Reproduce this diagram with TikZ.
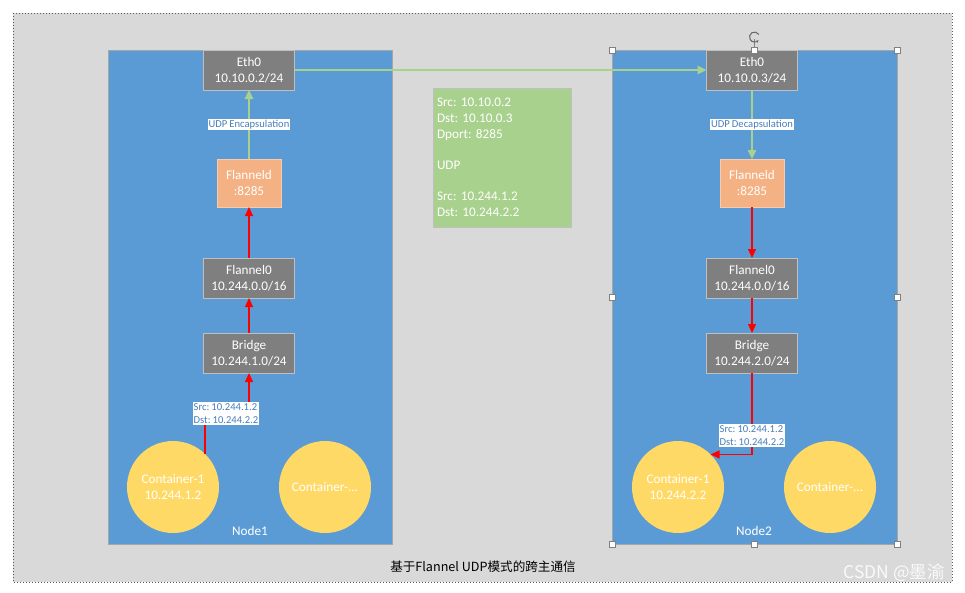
\documentclass[tikz,border=0pt]{standalone}
\usepackage{fontspec}
\setmainfont{Carlito}
\newfontfamily\cjk{Noto Sans CJK SC}
\usetikzlibrary{arrows.meta,calc}
\newcommand\boxspacing{\spaceskip=2.6pt\relax}
\newcommand\labspacing{\spaceskip=2.1pt\relax}
\definecolor{bggray}{HTML}{D9D9D9}
\definecolor{nodeblue}{HTML}{5B9BD5}
\definecolor{regionborder}{HTML}{A6A6A6}
\definecolor{boxgray}{HTML}{7F7F7F}
\definecolor{boxborder}{HTML}{BFBFBF}
\definecolor{orangefill}{HTML}{F4B183}
\definecolor{orangeborder}{HTML}{F8CBAD}
\definecolor{yellowfill}{HTML}{FFD966}
\definecolor{greenfill}{HTML}{A9D18E}
\definecolor{greenline}{HTML}{A9D18E}
\definecolor{labelblue}{HTML}{4A7EBB}
\definecolor{wmcolor}{HTML}{FAFAFA}
\definecolor{dotcolor}{HTML}{595959}
\begin{document}
\frenchspacing
\begin{tikzpicture}[x=1pt,y=-1pt,
  every node/.append style={execute at begin node=\frenchspacing},
  region/.style={draw=regionborder, fill=nodeblue, line width=0.8, inner sep=0, outer sep=0},
  graybox/.style={draw=boxborder, fill=boxgray, text=white, minimum width=91, minimum height=40,
    align=center, font=\fontsize{13.2}{16}\selectfont, inner sep=0, outer sep=0, line width=0.8},
  orangebox/.style={draw=orangeborder, fill=orangefill, text=white, minimum width=64, minimum height=48,
    align=center, font=\fontsize{13.2}{16.5}\selectfont, inner sep=0, outer sep=0, line width=0.8},
  container/.style={circle, fill=yellowfill, text=white, minimum size=92, inner sep=0, outer sep=0,
    align=center, font=\fontsize{13.2}{16.5}\selectfont},
  regionlabel/.style={text=white, font=\fontsize{13.2}{16}\selectfont, inner sep=0},
  lab/.style={fill=white, text=labelblue, font=\fontsize{10.6}{12.7}\selectfont\labspacing, inner xsep=1pt,
    inner ysep=1.2pt, align=left},
  greenarrow/.style={draw=greenline, line width=1.2, -{Triangle[length=9pt,width=8.5pt]}},
  redarrow/.style={draw=red, line width=1.2, -{Triangle[length=9pt,width=8pt]}},
  handle/.style={draw=gray, fill=white, minimum size=6, inner sep=0, line width=0.6, outer sep=0},
]
\useasboundingbox (0,0) rectangle (965,592);
\fill[white] (0,0) rectangle (965,592);
% outer dotted frame
\draw[dotcolor, fill=bggray, line width=0.8, dash pattern=on 0.9pt off 2.1pt] (13,13) rectangle (952,582);

% regions
\node[region, minimum width=284, minimum height=494] (node1) at (250.5,297) {};
\node[region, minimum width=285, minimum height=494] (node2) at (754.5,297) {};
\node[regionlabel] (node1lbl) at (250,531) {Node1};
\node[regionlabel] (node2lbl) at (754,531) {Node2};

% left host
\node[graybox] (eth1) at (249,70) {Eth0\\10.10.0.2/24};
\node[orangebox] (fd1) at (249,183) {Flanneld\\:8285};
\node[graybox] (f01) at (249,278) {Flannel0\\10.244.0.0/16};
\node[graybox] (br1) at (249,353) {Bridge\\10.244.1.0/24};
\node[container] (c1a) at (173,487) {Container-1\\10.244.1.2};
\node[container] (c1b) at (325,487) {Container-...};

% right host
\node[graybox] (eth2) at (752,70) {Eth0\\10.10.0.3/24};
\node[orangebox] (fd2) at (752,183) {Flanneld\\:8285};
\node[graybox] (f02) at (752,278) {Flannel0\\10.244.0.0/16};
\node[graybox] (br2) at (752,353) {Bridge\\10.244.2.0/24};
\node[container] (c2a) at (678,487) {Container-1\\10.244.2.2};
\node[container] (c2b) at (830,487) {Container-...};

% packet box
\node[draw=boxborder, fill=greenfill, text=white, minimum width=138, minimum height=139,
  text width=130, inner xsep=4, inner ysep=0, align=left, font=\fontsize{13.2}{15.7}\selectfont\boxspacing] (pkt) at (502,157.5)
  {Src: 10.10.0.2\\Dst: 10.10.0.3\\Dport: 8285\\[15.7pt]UDP\\[15.7pt]Src: 10.244.1.2\\Dst: 10.244.2.2};

% connectors
\draw[greenarrow] (eth1.east) -- (eth2.west);
\draw[greenarrow] (fd1.north) -- node[lab] (encl) {UDP Encapsulation} (eth1.south);
\draw[redarrow] (f01.north) -- (fd1.south);
\draw[redarrow] (br1.north) -- (f01.south);
\coordinate (l1) at (226,413.5);
\draw[redarrow] (c1a.46) -- (c1a.46 |- l1) -- (br1.south |- l1) -- (br1.south);
\node[lab] (srcl1) at (l1) {Src: 10.244.1.2\\Dst: 10.244.2.2};

\draw[greenarrow] (eth2.south) -- node[lab] (decl) {UDP Decapsulation} (fd2.north);
\draw[redarrow] (fd2.south) -- (f02.north);
\draw[redarrow] (f02.south) -- (br2.north);
\draw[redarrow] (br2.south) -- (br2.south |- c2a.45) -- (c2a.45);
\node[lab] (srcl2) at (752,435.5) {Src: 10.244.1.2\\Dst: 10.244.2.2};

% selection handles on Node2
\node[handle] (h1) at (612.5,50) {};
\node[handle] (h2) at (754.5,50) {};
\node[handle] (h3) at (897,50) {};
\node[handle] (h4) at (612.5,297) {};
\node[handle] (h5) at (897,297) {};
\node[handle] (h6) at (612.5,544) {};
\node[handle] (h7) at (754.5,544) {};
\node[handle] (h8) at (897,544) {};
\coordinate (rot) at (754.5,32);
\draw[gray, line width=0.6] (h2.north) -- ($(rot)+(0,7)$);
\draw[gray!80!black, line width=1, -{Stealth[length=2.5pt,width=3pt]}]
  ($(rot)+(4.3,2.5)$) arc[start angle=-30, end angle=-320, radius=5];

% caption and watermark
\node[font=\cjk\fontsize{12.6}{13}\selectfont, inner sep=0] (cap) at (483,567) {基于Flannel UDP模式的跨主通信};
\node[font=\cjk\fontsize{17.5}{18}\selectfont, text=wmcolor, inner sep=0] (wm) at (894,573) {CSDN @墨渝};
\end{tikzpicture}
\end{document}
